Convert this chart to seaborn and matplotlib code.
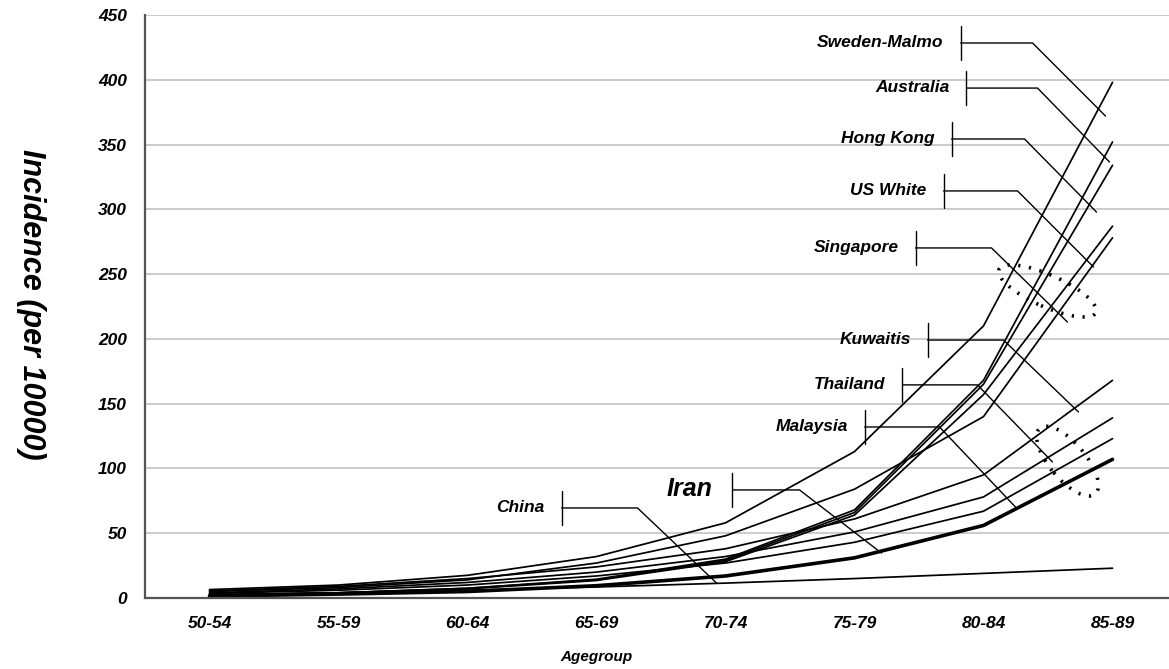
"""
Age-specific incidence curves by population, Excel-style callout labels.
"""

import matplotlib
matplotlib.use("Agg")
import matplotlib.pyplot as plt
import matplotlib.transforms as mtransforms
from matplotlib.patches import Ellipse
import seaborn as sns
import pandas as pd

# --- data ---
age_groups = ["50-54", "55-59", "60-64", "65-69", "70-74", "75-79", "80-84", "85-89"]

sweden_malmo = [6.5, 10, 17.5, 32, 58, 113, 210, 398]
australia = [2.5, 4, 7.5, 14.5, 30, 68, 168, 352]
hong_kong = [2.5, 4, 7.5, 14, 29, 66, 165, 334]
us_white = [2.5, 4, 7, 13.5, 28, 64, 157, 287]
singapore = [5, 8, 14, 27, 48, 84, 140, 278]
kuwaitis = [5.5, 9, 15, 24, 38, 61, 95, 168]
thailand = [4, 7, 12, 20, 32, 51, 78, 139]
malaysia = [3.5, 6, 10, 17, 27, 43, 67, 123]
iran = [1.5, 3, 5, 9.5, 17, 31, 56, 107]
china = [2, 4, 6, 8.5, 11.5, 15, 19, 23]

series = {
    "Sweden-Malmo": sweden_malmo,
    "Australia": australia,
    "Hong Kong": hong_kong,
    "US White": us_white,
    "Singapore": singapore,
    "Kuwaitis": kuwaitis,
    "Thailand": thailand,
    "Malaysia": malaysia,
    "Iran": iran,
    "China": china,
}

# --- callout layout (data coords) ---
label_names = ["Sweden-Malmo", "Australia", "Hong Kong", "US White", "Singapore",
               "Kuwaitis", "Thailand", "Malaysia", "Iran", "China"]
bar_x = [5.822, 5.868, 5.752, 5.690, 5.473, 5.566, 5.372, 5.078, 4.054, 2.729]
bar_y = [428.4, 393.6, 354.3, 314.2, 270.2, 199.1, 164.5, 132.0, 83.4, 69.5]
elbow_x = [6.380, 6.419, 6.318, 6.264, 6.062, 6.155, 5.953, 5.659, 4.574, 3.318]
tip_x = [6.946, 6.977, 6.876, 6.853, 6.651, 6.736, 6.535, 6.248, 5.209, 3.930]
tip_y = [372.0, 336.5, 297.9, 255.5, 213.0, 143.6, 105.0, 70.2, 34.7, 11.6]

sns.set_style("white")
plt.rcParams["font.family"] = ["Liberation Sans", "DejaVu Sans"]
plt.rcParams["text.color"] = "black"
plt.rcParams["xtick.labelcolor"] = "black"
plt.rcParams["ytick.labelcolor"] = "black"
font = dict(family=["Liberation Sans", "DejaVu Sans"], weight="bold", style="italic")

df = pd.DataFrame(
    [(name, age, val) for name, vals in series.items() for age, val in zip(age_groups, vals)],
    columns=["country", "agegroup", "incidence"],
)

fig = plt.figure(figsize=(11.69, 6.69), dpi=100)
ax = fig.add_axes([145 / 1169, 71 / 669, 1032 / 1169, 583 / 669])

for name in series:
    sns.lineplot(
        data=df[df["country"] == name],
        x="agegroup", y="incidence",
        color="black",
        linewidth=2.6 if name == "Iran" else 1.25,
        sort=False, ax=ax, legend=False,
    )

ax.set_xlim(-0.5, 7.5)
ax.set_ylim(0, 450)

# grid + axes styling
ax.set_yticks(range(0, 451, 50))
ax.yaxis.grid(True, color="#bdbdbd", linewidth=1.1)
ax.xaxis.grid(False)
for side in ["top", "right"]:
    ax.spines[side].set_visible(False)
for side in ["left", "bottom"]:
    ax.spines[side].set_color("#555555")
    ax.spines[side].set_linewidth(1.6)

ax.set_xticks(range(len(age_groups)))
ax.set_xticklabels(age_groups)
ax.set_xticks([i - 0.5 for i in range(len(age_groups) + 1)], minor=True)
ax.tick_params(axis="x", which="major", length=0, pad=13)
ax.tick_params(axis="x", which="minor", length=8, width=1.2, color="#555555", direction="out")
ax.tick_params(axis="y", length=5, width=1.2, color="#555555", direction="out", pad=8)
for lab in ax.get_xticklabels() + ax.get_yticklabels():
    lab.set_fontproperties(matplotlib.font_manager.FontProperties(**font, size=12.5))
    lab.set_color("black")

ax.set_xlabel("")
ax.set_ylabel("")
fig.text(596 / 1169, 1 - 657 / 669, "Agegroup", ha="center", va="center",
         fontsize=11, color="black", **font)
fig.text(31 / 1169, 1 - 304 / 669, "Incidence (per 10000)", ha="center", va="center",
         rotation=-90, fontsize=22, color="black", **font)

# callouts
for name, bx, by, ex, tx, ty in zip(label_names, bar_x, bar_y, elbow_x, tip_x, tip_y):
    ax.plot([bx, bx], [by - 13, by + 13], color="black", linewidth=1.0)
    ax.plot([bx, ex, tx], [by, by, ty], color="black", linewidth=1.0)
    size = 18 if name == "Iran" else 12.5
    gap = 0.155 if name == "Iran" else 0.13
    ax.text(bx - gap, by + 0.5, name, ha="right", va="center", fontsize=size,
            color="black", **font)

# dotted ellipses (drawn in pixel space so the tilt is kept)
for cx, cy, w, h, ang in [(6.496, 237.0, 106, 32, -24), (6.651, 105.7, 86, 36, -50)]:
    px, py = ax.transData.transform((cx, cy))
    ax.add_patch(Ellipse((px, py), w, h, angle=ang, fill=False, edgecolor="black",
                         linewidth=2.6, linestyle=(0, (0.6, 2.4)),
                         transform=mtransforms.IdentityTransform(), clip_on=False))

fig.savefig("out.png", dpi=100, facecolor="white")
